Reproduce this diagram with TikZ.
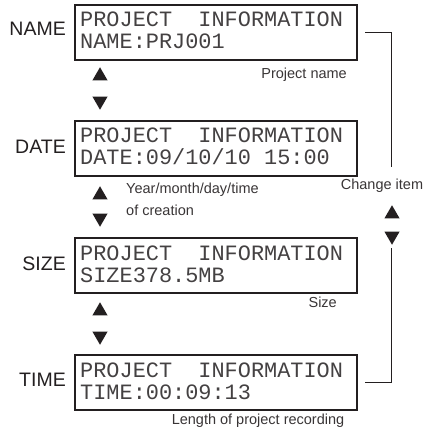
\documentclass[tikz,border=0pt]{standalone}
\usepackage{fontspec}
\setmainfont{Liberation Sans}
\newfontfamily\lcdfont{Liberation Mono}
\usetikzlibrary{shapes.geometric,calc}
\definecolor{ink}{HTML}{231F20}
\tikzset{
  lcdbox/.style={draw=ink, line width=2pt, minimum width=282pt, minimum height=55pt, inner sep=0, anchor=north west},
  lcdtext/.style={font=\lcdfont\fontsize{21.9}{22}\selectfont, text=ink!85, inner sep=0, anchor=base west},
  itemlabel/.style={font=\fontsize{19.5}{20}\selectfont, text=ink, inner sep=0, anchor=east},
  note/.style={font=\fontsize{14.5}{16}\selectfont, text=ink!90, inner sep=0},
  uptri/.style={regular polygon, regular polygon sides=3, fill=ink, minimum size=17.5pt, inner sep=0},
  downtri/.style={uptri, shape border rotate=180},
  conn/.style={draw=ink, line width=0.8pt}
}
\begin{document}
\begin{tikzpicture}[x=1pt,y=-1pt]
\useasboundingbox (0,0) rectangle (428,430);
% boxes
\node[lcdbox] (nameb) at (74,4) {};
\node[lcdbox] (dateb) at (74,120) {};
\node[lcdbox] (sizeb) at (74,237) {};
\node[lcdbox] (timeb) at (74,354) {};
% box texts
\node[lcdtext] (nameb-l1) at ($(nameb.north west)+(6,23)$) {PROJECT\ \ INFORMATION};
\node[lcdtext] (nameb-l2) at ($(nameb.north west)+(6,45)$) {NAME:PRJ001};
\node[lcdtext] (dateb-l1) at ($(dateb.north west)+(6,23)$) {PROJECT\ \ INFORMATION};
\node[lcdtext] (dateb-l2) at ($(dateb.north west)+(6,45)$) {DATE:09/10/10 15:00};
\node[lcdtext] (sizeb-l1) at ($(sizeb.north west)+(6,23)$) {PROJECT\ \ INFORMATION};
\node[lcdtext] (sizeb-l2) at ($(sizeb.north west)+(6,45)$) {SIZE378.5MB};
\node[lcdtext] (timeb-l1) at ($(timeb.north west)+(6,23)$) {PROJECT\ \ INFORMATION};
\node[lcdtext] (timeb-l2) at ($(timeb.north west)+(6,45)$) {TIME:00:09:13};
% item labels
\node[itemlabel] (namel) at ($(nameb.north west)+(-8,25)$) {NAME};
\node[itemlabel] (datel) at ($(dateb.north west)+(-8,27)$) {DATE};
\node[itemlabel] (sizel) at ($(sizeb.north west)+(-8,27)$) {SIZE};
\node[itemlabel] (timel) at ($(timeb.north west)+(-8,26)$) {TIME};
% left triangles
\node[uptri] (u1) at (100,76) {};
\node[downtri] (d1) at (100,101) {};
\node[uptri] (u2) at (100,195) {};
\node[downtri] (d2) at (100,218) {};
\node[uptri] (u3) at (100,311) {};
\node[downtri] (d3) at (100,336) {};
% notes
\node[note, anchor=east] (pn) at (347,75) {Project name};
\node[note, anchor=west] (ym1) at (126,190) {Year/month/day/time};
\node[note, anchor=west] (ym2) at (126,210) {of creation};
\node[note, anchor=east] (sz) at (337,302) {Size};
\node[note] (len) at (258,421) {Length of project recording};
\node[note] (chg) at (382,186) {Change item};
% right side
\node[uptri] (ru) at (392,214) {};
\node[downtri] (rd) at (392,236) {};
\coordinate (ctop) at (391,167);
\coordinate (cbot) at (391,248);
\draw[conn] ([xshift=7pt]nameb.east) -| (ctop);
\draw[conn] (cbot) |- ([xshift=7pt]timeb.east);
\end{tikzpicture}
\end{document}
